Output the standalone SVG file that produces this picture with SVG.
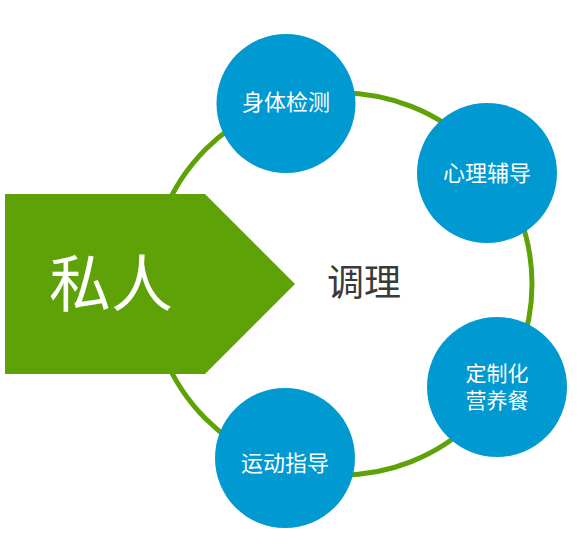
<svg xmlns="http://www.w3.org/2000/svg" width="577" height="547" viewBox="0 0 577 547">
<style>
.ring{fill:none;stroke:#5fa207;stroke-width:5}
.node{fill:#0099d1}
.lbl{font-family:"Noto Sans CJK SC","Noto Sans",sans-serif;font-size:22px;fill:#ffffff;text-anchor:middle}
.lbl2{font-family:"Noto Sans CJK SC","Noto Sans",sans-serif;font-size:21px;fill:#ffffff;text-anchor:middle}
.big{font-family:"Noto Sans CJK SC",sans-serif;font-size:62px;fill:#ffffff;text-anchor:middle}
.center{font-family:"Noto Sans CJK SC",sans-serif;font-size:37px;fill:#3a3a3a;text-anchor:middle}
</style>
<rect width="577" height="547" fill="#ffffff"/>
<g id="connectors">
<circle class="ring" cx="341" cy="284" r="191"/>
</g>
<g id="siren">
<polygon points="5,194 205,194 295,284 205,374 5,374" fill="#5fa207"/>
<text class="big" x="111" y="307">私人</text>
</g>
<g id="tiaoli">
<text class="center" x="364" y="296">调理</text>
</g>
<g id="shentijiance">
<circle class="node" cx="286" cy="103.5" r="69.5"/>
<text class="lbl" x="286" y="110">身体检测</text>
</g>
<g id="xinlifudao">
<circle class="node" cx="487" cy="173" r="70"/>
<text class="lbl" x="487" y="181">心理辅导</text>
</g>
<g id="dingzhihua">
<circle class="node" cx="497" cy="387" r="70"/>
<text class="lbl2" x="497" y="381">定制化</text>
<text class="lbl2" x="497" y="408">营养餐</text>
</g>
<g id="yundongzhidao">
<circle class="node" cx="285" cy="458" r="70"/>
<text class="lbl" x="285" y="471">运动指导</text>
</g>
</svg>
